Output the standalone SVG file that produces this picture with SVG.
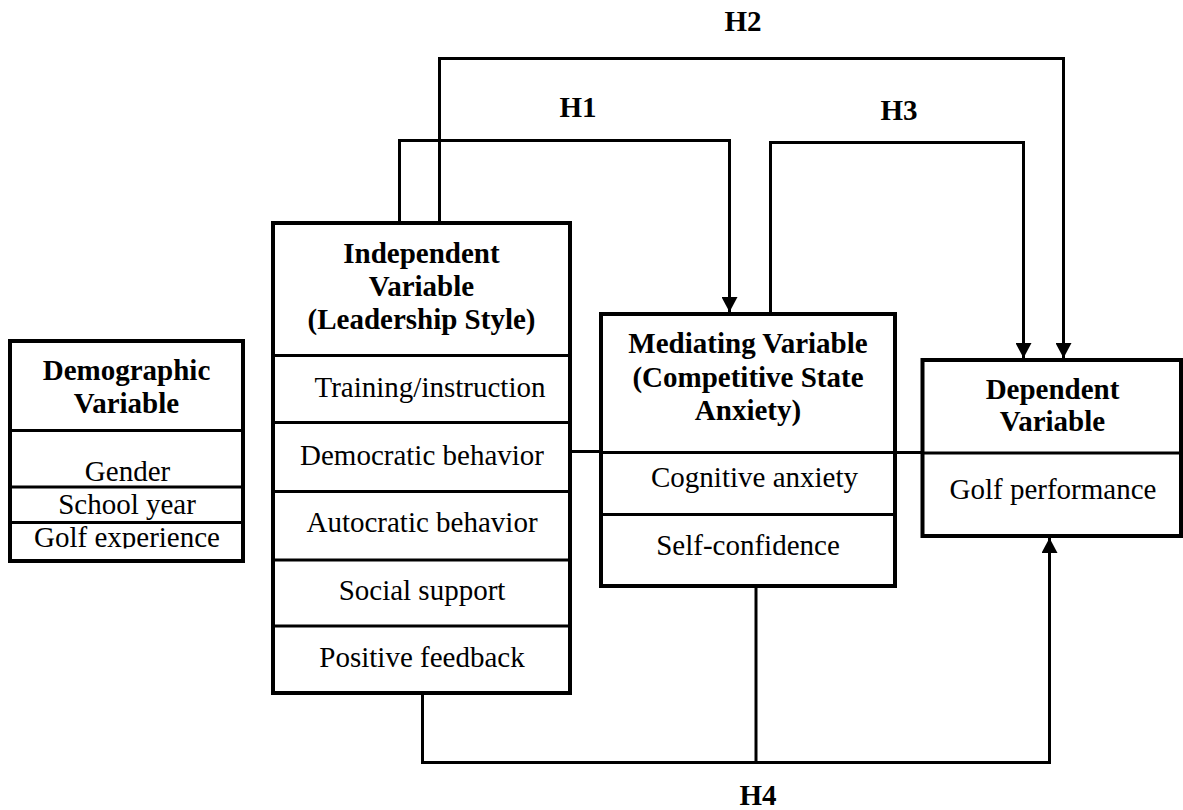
<svg xmlns="http://www.w3.org/2000/svg" width="1183" height="810" viewBox="0 0 1183 810">
<style>
.box{fill:#fff;stroke:#000;stroke-width:4}
.div{stroke:#000;stroke-width:3;fill:none}
.con{stroke:#000;stroke-width:3;fill:none}
.t{font-family:"Liberation Serif","Times New Roman",serif;font-size:29px;fill:#000;text-anchor:middle}
.b{font-weight:bold}
</style>
<defs>
<marker id="arr" markerUnits="userSpaceOnUse" markerWidth="16" markerHeight="16" viewBox="0 0 15 16" refX="15" refY="8" orient="auto">
<path d="M0,0 L15,8 L0,16 z" fill="#000"/>
</marker>
<clipPath id="clipGolf"><rect x="10" y="520" width="233" height="28.5"/></clipPath>
</defs>
<rect width="1183" height="810" fill="#fff"/>

<g id="connectors">
<path class="con" d="M399.5,223 V140.5 H729.5 V312" marker-end="url(#arr)"/>
<path class="con" d="M439.5,223 V58.5 H1063.5 V358" marker-end="url(#arr)"/>
<path class="con" d="M770.5,314 V142.5 H1023.5 V358" marker-end="url(#arr)"/>
<path class="con" d="M422.5,693 V762.5 H1049.5 V538" marker-end="url(#arr)"/>
<path class="con" d="M756,586 V762.5"/>
<path class="con" d="M570,451.5 H601"/>
<path class="con" d="M895,452.5 H922.5"/>
<text class="t b" x="743" y="31">H2</text>
<text class="t b" x="578" y="117">H1</text>
<text class="t b" x="899" y="120">H3</text>
<text class="t b" x="758" y="805">H4</text>
</g>

<g id="demographic">
<rect class="box" x="10" y="341" width="233" height="220"/>
<line class="div" x1="10" y1="430.5" x2="243" y2="430.5"/>
<line class="div" x1="10" y1="487" x2="243" y2="487"/>
<line class="div" x1="10" y1="522.5" x2="243" y2="522.5"/>
<text class="t b" x="126.5" y="380">Demographic</text>
<text class="t b" x="126.5" y="413">Variable</text>
<text class="t" x="127.5" y="481">Gender</text>
<text class="t" x="127" y="514">School year</text>
<text class="t" x="127" y="547" clip-path="url(#clipGolf)">Golf experience</text>
</g>

<g id="independent">
<rect class="box" x="273" y="223" width="297" height="470"/>
<line class="div" x1="273" y1="355.5" x2="570" y2="355.5"/>
<line class="div" x1="273" y1="422.5" x2="570" y2="422.5"/>
<line class="div" x1="273" y1="491.5" x2="570" y2="491.5"/>
<line class="div" x1="273" y1="560" x2="570" y2="560"/>
<line class="div" x1="273" y1="626" x2="570" y2="626"/>
<text class="t b" x="421.5" y="263">Independent</text>
<text class="t b" x="421.5" y="296">Variable</text>
<text class="t b" x="421.5" y="329">(Leadership Style)</text>
<text class="t" x="430" y="397">Training/instruction</text>
<text class="t" x="422" y="465">Democratic behavior</text>
<text class="t" x="422" y="532">Autocratic behavior</text>
<text class="t" x="422" y="600">Social support</text>
<text class="t" x="422" y="667">Positive feedback</text>
</g>

<g id="mediating">
<rect class="box" x="601" y="314" width="294" height="272"/>
<line class="div" x1="601" y1="452.5" x2="895" y2="452.5"/>
<line class="div" x1="601" y1="514.5" x2="895" y2="514.5"/>
<text class="t b" x="748" y="353">Mediating Variable</text>
<text class="t b" x="748" y="386.5">(Competitive State</text>
<text class="t b" x="748" y="420">Anxiety)</text>
<text class="t" x="754.5" y="487">Cognitive anxiety</text>
<text class="t" x="748" y="555">Self-confidence</text>
</g>

<g id="dependent">
<rect class="box" x="922.5" y="360" width="258.5" height="176"/>
<line class="div" x1="922.5" y1="453" x2="1181" y2="453"/>
<text class="t b" x="1052.5" y="399">Dependent</text>
<text class="t b" x="1052.5" y="431">Variable</text>
<text class="t" x="1053" y="499">Golf performance</text>
</g>
</svg>
